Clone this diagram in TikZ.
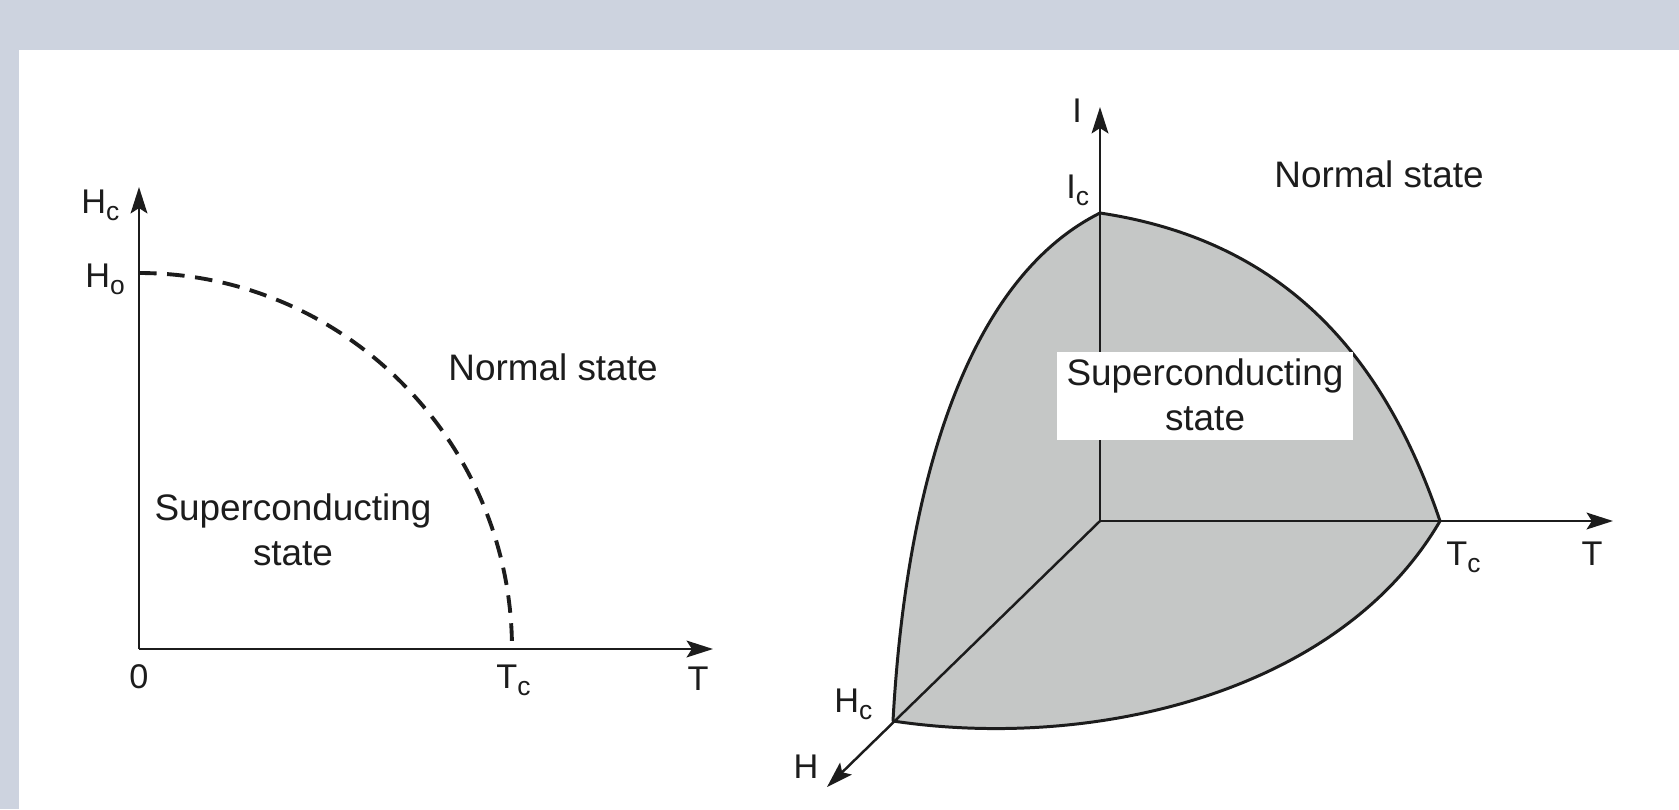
\documentclass[tikz,border=0pt]{standalone}
\usepackage{fontspec}
\setmainfont{Liberation Sans}
\usetikzlibrary{arrows.meta}
\definecolor{bandgrey}{HTML}{CDD3DF}
\definecolor{regionfill}{HTML}{C5C7C6}
\definecolor{ink}{HTML}{1C1C1C}
\newcommand{\lowc}[1]{\raisebox{-4.5pt}{\fontsize{15}{15}\selectfont #1}}
\begin{document}
\begin{tikzpicture}[x=0.02cm,y=-0.02cm,
 axisline/.style={line width=1.6pt, draw=ink},
 axisarrow/.style={axisline, -{Stealth[length=15pt,width=9.5pt,inset=3pt]}},
 edgeline/.style={line width=1.7pt, draw=ink, line join=round},
 lab/.style={inner sep=0pt, text=ink, font=\fontsize{19.5}{22}\selectfont},
 big/.style={inner sep=0pt, text=ink, font=\fontsize{21}{25}\selectfont},
]
\useasboundingbox (0,0) rectangle (1679,809);
\fill[bandgrey] (0,0) rectangle (1679,809);
\fill[white] (19,50) rectangle (1679,809);

% ---------- left diagram ----------
\coordinate (O1) at (139,649);
\coordinate (Ytip) at (139,187);
\coordinate (Xtip) at (713,649);
\coordinate (H0) at (139,273);
\coordinate (Tc1) at (512,649);
\draw[edgeline, line width=2.2pt, dash pattern=on 10pt off 6pt]
  (H0) .. controls (344,273) and (512,442) .. (Tc1);
\draw[axisarrow] (O1) -- (Ytip);
\draw[axisarrow] (O1) -- (Xtip);

\node[lab, anchor=base west] (lHc) at (81,213) {H\lowc{c}};
\node[lab, anchor=base west] (lHo) at (85,287) {H\lowc{o}};
\node[lab, anchor=base] (l0) at (139,688) {0};
\node[lab, anchor=base west] (lTc) at (496,688) {T\lowc{c}};
\node[lab, anchor=base] (lT) at (698,690) {T};
\node[big, anchor=base] (lNormal) at (553,380) {Normal state};
\node[big, anchor=base] (lSc1) at (293,520) {Superconducting};
\node[big, anchor=base] (lSc2) at (293,565) {state};

% ---------- right diagram ----------
\coordinate (O2) at (1100,521);
\coordinate (Itip) at (1100,107);
\coordinate (Ttip) at (1613,521);
\coordinate (Htip) at (827,787);
\coordinate (Ic) at (1100,213);
\coordinate (Hc) at (893,721);
\coordinate (Tc) at (1440,521);

\filldraw[fill=regionfill, edgeline]
  (Ic) .. controls (960,283) and (905,501) .. (Hc)
       .. controls (1093,751) and (1340,693) .. (Tc)
       .. controls (1382,350) and (1280,240) .. (Ic) -- cycle;

\draw[axisarrow] (O2) -- (Itip);
\draw[axisarrow] (O2) -- (Ttip);
\draw[axisarrow, line width=1.4pt] (O2) -- (Htip);

\node[fill=white, inner sep=0pt, minimum width=5.92cm, minimum height=1.76cm] (scbox) at (1205,396) {};
\node[big, anchor=base] (rSc1) at (1205,385) {Superconducting};
\node[big, anchor=base] (rSc2) at (1205,430) {state};

\node[lab, anchor=base] (rI) at (1077,122) {I};
\node[lab, anchor=base west] (rIc) at (1066,198) {I\lowc{c}};
\node[big, anchor=base] (rNormal) at (1379,187) {Normal state};
\node[lab, anchor=base west] (rTc) at (1446,565) {T\lowc{c}};
\node[lab, anchor=base] (rT) at (1592,565) {T};
\node[lab, anchor=base west] (rHc) at (834,712) {H\lowc{c}};
\node[lab, anchor=base] (rH) at (806,778) {H};
\end{tikzpicture}
\end{document}
